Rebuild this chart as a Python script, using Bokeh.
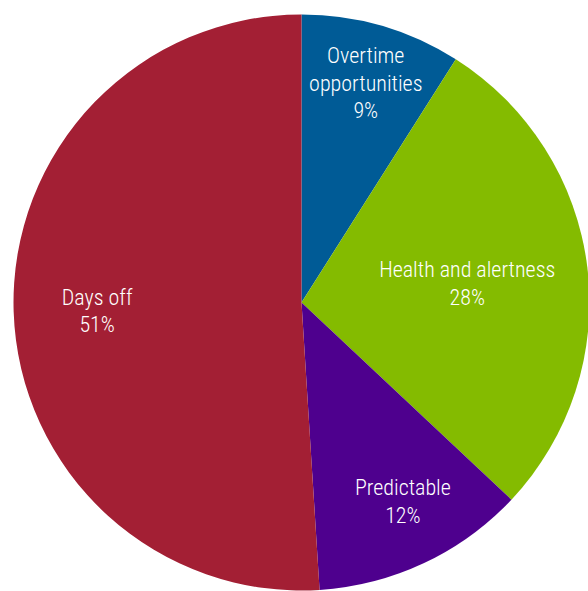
import math
from bokeh.plotting import figure
from bokeh.models import ColumnDataSource, Range1d
from bokeh.core.properties import value
from bokeh.embed import file_html
from bokeh.resources import INLINE

categories = ["Overtime\nopportunities", "Health and alertness", "Predictable", "Days off"]
percents = [9, 28, 12, 51]
colors = ["#005B96", "#84BB00", "#4E008E", "#A31F34"]
label_radius_frac = [0.80, 0.58, 0.77, 0.71]
label_angle_shift_deg = [0, 0, 2, 0]

W, H = 588, 591
cx, cy, R = 301, H - 302, 288

total = sum(percents)
starts, ends, lx, ly, texts = [], [], [], [], []
acc = 0.0
for cat, pct, rf, da in zip(categories, percents, label_radius_frac, label_angle_shift_deg):
    a0 = math.pi / 2 - 2 * math.pi * acc / total
    acc += pct
    a1 = math.pi / 2 - 2 * math.pi * acc / total
    starts.append(a0)
    ends.append(a1)
    mid = (a0 + a1) / 2 + math.radians(da)
    lx.append(cx + rf * R * math.cos(mid))
    ly.append(cy + rf * R * math.sin(mid) - 2)
    texts.append(f"{cat}\n{pct}%")

src = ColumnDataSource(dict(start=starts, end=ends, color=colors,
                            lx=lx, ly=ly, text=texts))

p = figure(width=W, height=H, output_backend="svg", toolbar_location=None,
           x_range=Range1d(0, W), y_range=Range1d(0, H), min_border=0)
p.axis.visible = False
p.grid.visible = False
p.outline_line_color = None
p.background_fill_color = "white"

p.wedge(x=cx, y=cy, radius=R, start_angle="start", end_angle="end",
        direction="clock", fill_color="color", line_color=None, source=src)

p.text(x="lx", y="ly", text="text", source=src, text_color="white",
       text_font=value("'Roboto Condensed Light', 'Roboto Condensed', 'DejaVu Sans Condensed', 'Roboto Light', Roboto"),
       text_font_size="22px",
       text_align="center", text_baseline="middle", text_line_height=1.1)

open("out.html", "w").write(file_html(p, INLINE))
